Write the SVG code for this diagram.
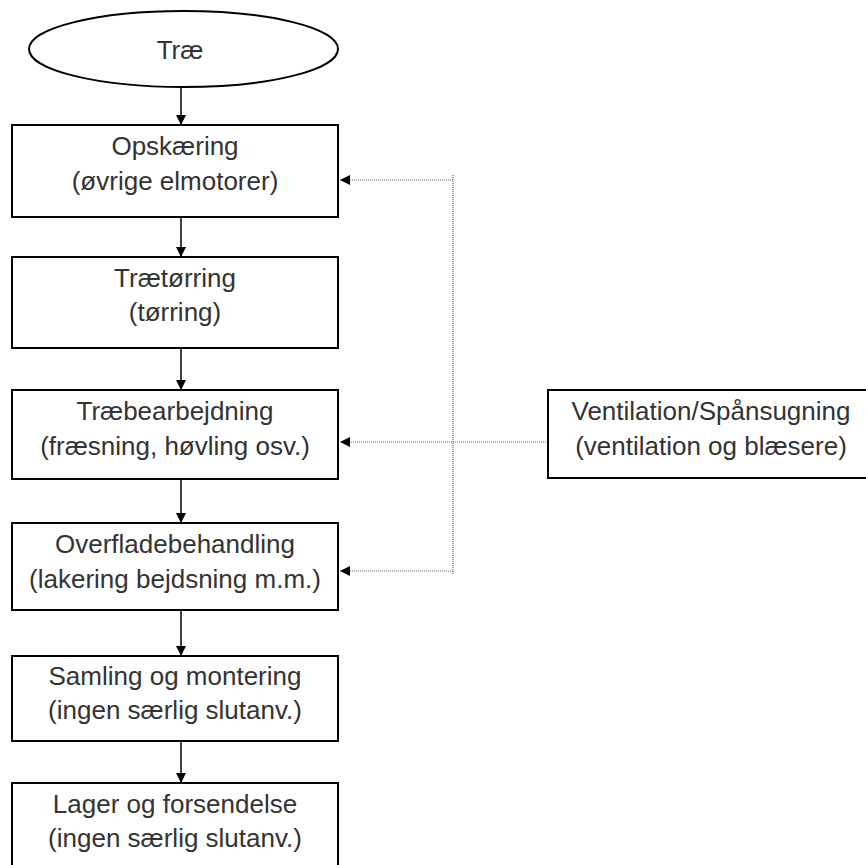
<svg xmlns="http://www.w3.org/2000/svg" width="866" height="865" viewBox="0 0 866 865">
  <style>
    .box { fill: #fff; stroke: #000; stroke-width: 2; }
    .lbl { font-family: "Liberation Sans", Arial, sans-serif; font-size: 26px; fill: #333; text-anchor: middle; }
    .flow { stroke: #000; stroke-width: 1.5; fill: none; }
    .feed { stroke: #666; stroke-width: 1.2; stroke-dasharray: 1 1; fill: none; }
  </style>
  <defs>
    <marker id="head" markerWidth="10" markerHeight="10" refX="10" refY="5" orient="auto" markerUnits="userSpaceOnUse">
      <path d="M0,0 L10,5 L0,10 Z" fill="#000"/>
    </marker>
  </defs>
  <rect width="866" height="865" fill="#fff"/>

  <g id="connectors">
    <!-- main process flow -->
    <line class="flow" x1="181" y1="87" x2="181" y2="125" marker-end="url(#head)"/>
    <line class="flow" x1="181" y1="217" x2="181" y2="257" marker-end="url(#head)"/>
    <line class="flow" x1="181" y1="348" x2="181" y2="390" marker-end="url(#head)"/>
    <line class="flow" x1="181" y1="479" x2="181" y2="523" marker-end="url(#head)"/>
    <line class="flow" x1="181" y1="610" x2="181" y2="656" marker-end="url(#head)"/>
    <line class="flow" x1="181" y1="741" x2="181" y2="783" marker-end="url(#head)"/>
    <!-- ventilation feed lines -->
    <line class="feed" x1="453" y1="175" x2="453" y2="575"/>
    <line class="feed" x1="548" y1="442" x2="340" y2="442" marker-end="url(#head)"/>
    <line class="feed" x1="453" y1="180" x2="340" y2="180" marker-end="url(#head)"/>
    <line class="feed" x1="453" y1="571" x2="340" y2="571" marker-end="url(#head)"/>
  </g>

  <g id="trae">
    <ellipse class="box" cx="183.5" cy="49" rx="154.5" ry="38"/>
    <text class="lbl" x="180" y="59">Træ</text>
  </g>

  <g id="opskaering">
    <rect class="box" x="12" y="125" width="326" height="92"/>
    <text class="lbl" x="175" y="155">Opskæring</text>
    <text class="lbl" x="175" y="190">(øvrige elmotorer)</text>
  </g>

  <g id="traetoerring">
    <rect class="box" x="12" y="257" width="326" height="91"/>
    <text class="lbl" x="175" y="287">Trætørring</text>
    <text class="lbl" x="175" y="321">(tørring)</text>
  </g>

  <g id="traebearbejdning">
    <rect class="box" x="12" y="390" width="326" height="89"/>
    <text class="lbl" x="175" y="420">Træbearbejdning</text>
    <text class="lbl" x="175" y="455">(fræsning, høvling osv.)</text>
  </g>

  <g id="overfladebehandling">
    <rect class="box" x="12" y="523" width="326" height="87"/>
    <text class="lbl" x="175" y="553">Overfladebehandling</text>
    <text class="lbl" x="175" y="588">(lakering bejdsning m.m.)</text>
  </g>

  <g id="samling">
    <rect class="box" x="12" y="656" width="326" height="85"/>
    <text class="lbl" x="175" y="685">Samling og montering</text>
    <text class="lbl" x="175" y="719">(ingen særlig slutanv.)</text>
  </g>

  <g id="lager">
    <rect class="box" x="12" y="783" width="326" height="90"/>
    <text class="lbl" x="175" y="813">Lager og forsendelse</text>
    <text class="lbl" x="175" y="847">(ingen særlig slutanv.)</text>
  </g>

  <g id="ventilation">
    <rect class="box" x="548" y="390" width="327" height="88"/>
    <text class="lbl" x="711" y="420">Ventilation/Spånsugning</text>
    <text class="lbl" x="711" y="455">(ventilation og blæsere)</text>
  </g>
</svg>
